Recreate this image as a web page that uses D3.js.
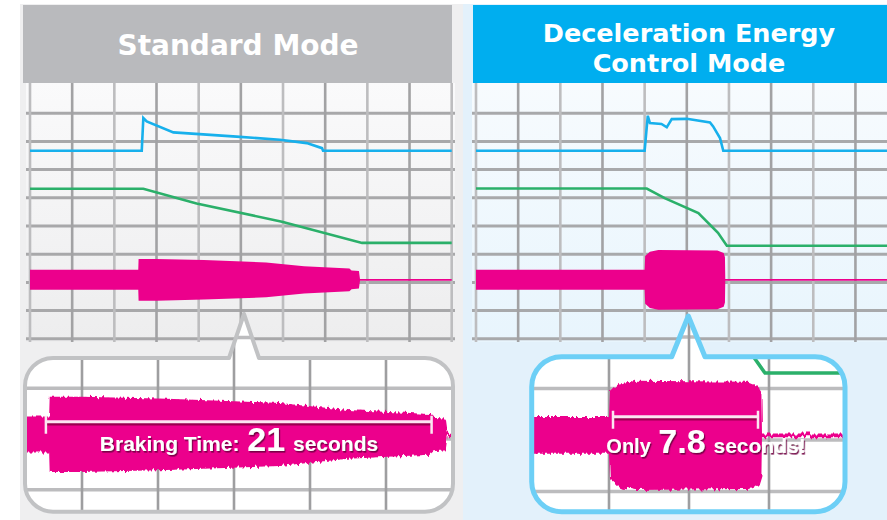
<!DOCTYPE html>
<html>
<head>
<meta charset="utf-8">
<script src="https://cdn.jsdelivr.net/npm/d3@7"></script>
<style>
  body { margin: 0; background: #fff; }
  svg { display: block; }
</style>
</head>
<body>
<div id="chart"></div>
<script>
// grid: one column = 4 s, rows in arbitrary signal units
const timeTicks = d3.range(0, 41, 4);
const levelTicks = d3.range(0, 10);

// [time (s), level]
const stdSpeed = [[0, 6.67], [10.6, 6.67], [10.75, 7.83], [11.07, 7.71], [13.6, 7.32], [19.6, 7.17],
    [23.7, 7.06], [26.25, 6.94], [27.7, 6.76], [27.8, 6.67], [40, 6.67]];
const stdVoltage = [[0, 5.32], [10.75, 5.32], [15.8, 4.8], [23.9, 4.15], [31.5, 3.4], [40, 3.4]];
// [time (s), half amplitude]
const stdCurrent = [[0, 0.355], [10.27, 0.355], [10.3, 0.74], [12, 0.74], [16.5, 0.7], [22.4, 0.62],
    [26, 0.48], [30.3, 0.4], [30.5, 0.33], [31.2, 0.31], [31.3, 0.035], [40, 0.035]];
const stdBracket = [10.1, 30.4];

const decSpeed = [[0, 6.67], [16, 6.67], [16.3, 7.91], [16.5, 7.65], [17.6, 7.62], [18.1, 7.5],
    [18.57, 7.79], [20, 7.8], [22.2, 7.67], [22.5, 7.53], [23.15, 7.12], [23.46, 6.67], [40, 6.67]];
const decVoltage = [[0, 5.33], [16.2, 5.33], [17.9, 4.99], [21.1, 4.46], [22.96, 3.76], [23.8, 3.3], [40, 3.3]];
const decCurrent = [[0, 0.355], [16, 0.355], [16.05, 0.85], [16.5, 1.0], [17.3, 1.06], [22.9, 1.04],
    [23.5, 0.95], [23.62, 0.8], [23.65, 0.035], [40, 0.035]];
const decBracket = [16.2, 23.45];

const currentCenter = 2.09;
const bracketLevel = [2.34, 2.45];
const titles = [["Standard Mode"], ["Deceleration Energy", "Control Mode"]];
const captions = [["Braking Time: ", "21", " seconds"], ["Only ", "7.8", " seconds!"]];

const W = 887, H = 520;

const panels = [
    {
        speed: stdSpeed, voltage: stdVoltage, current: stdCurrent, bracket: stdBracket,
        title: titles[0], caption: captions[0], bracketLevel: bracketLevel[0],
        zoomShowsVoltage: false,
        panelX: [20, 463], panelFill: "#efeff0", gridX: [26, 455], gridFill: "url(#grid-gray)",
        plotX: [30, 451.7], headX: [23, 452], headFill: "#b9babd", titleX: 238, titleY: [55], titleSize: 28,
        lineColor: "#a8a8aa",
        box: [25, 358, 453, 511.7], radius: 28, notch: [229, 259], apex: [244, 314],
        boxStroke: "#c1c2c4", boxWidth: 4,
        zoomX: [[12, 28], [82, 386]], zoomY: [[1, 3], [489.8, 388.2]],
        captionX: 239, captionY: 451, captionSizes: [21, 34, 21]
    },
    {
        speed: decSpeed, voltage: decVoltage, current: decCurrent, bracket: decBracket,
        title: titles[1], caption: captions[1], bracketLevel: bracketLevel[1],
        zoomShowsVoltage: true,
        panelX: [463, 887], panelFill: "#e3f1fb", gridX: [472, 887], gridFill: "url(#grid-blue)",
        plotX: [476, 897.6], headX: [473, 887], headFill: "#00aeef", titleX: 689, titleY: [42, 72], titleSize: 25.5,
        lineColor: "#a8a9ab",
        box: [531.7, 356.7, 845, 511.7], radius: 30, notch: [671.7, 705], apex: [688.3, 316],
        boxStroke: "#6dcff6", boxWidth: 5,
        zoomX: [[20, 24], [689, 769]], zoomY: [[1, 3], [491.5, 388.5]],
        captionX: 706, captionY: 453, captionSizes: [20, 34, 21]
    }
];

const svg = d3.select("#chart").append("svg")
    .attr("width", W)
    .attr("height", H);

const defs = svg.append("defs");

const g1 = defs.append("linearGradient").attr("id", "grid-gray")
    .attr("x1", 0).attr("y1", 0).attr("x2", 0).attr("y2", 1);
g1.append("stop").attr("offset", "0%").attr("stop-color", "#fafafb");
g1.append("stop").attr("offset", "100%").attr("stop-color", "#ededee");

const g2 = defs.append("linearGradient").attr("id", "grid-blue")
    .attr("x1", 0).attr("y1", 0).attr("x2", 0).attr("y2", 1);
g2.append("stop").attr("offset", "0%").attr("stop-color", "#f7fbfe");
g2.append("stop").attr("offset", "100%").attr("stop-color", "#e8f5fd");

const shadow = defs.append("filter").attr("id", "txt-shadow")
    .attr("x", "-10%").attr("y", "-30%").attr("width", "120%").attr("height", "160%");
shadow.append("feDropShadow").attr("dx", 1.2).attr("dy", 1.6)
    .attr("stdDeviation", 0.5).attr("flood-color", "#6e0040").attr("flood-opacity", 0.9);

// ragged brush edges for the magnified current
const brush = defs.append("filter").attr("id", "brush")
    .attr("x", "-5%").attr("y", "-30%").attr("width", "110%").attr("height", "160%");
brush.append("feTurbulence").attr("type", "fractalNoise")
    .attr("baseFrequency", "0.4 0.015").attr("numOctaves", 1).attr("seed", 3).attr("result", "noise");
brush.append("feDisplacementMap").attr("in", "SourceGraphic").attr("in2", "noise")
    .attr("scale", 8).attr("xChannelSelector", "R").attr("yChannelSelector", "G");

function calloutPath(b, r, notch, apex) {
    const [x0, y0, x1, y1] = b;
    const p = d3.path();
    p.moveTo(x0 + r, y0);
    p.lineTo(notch[0], y0);
    p.lineTo(apex[0], apex[1]);
    p.lineTo(notch[1], y0);
    p.lineTo(x1 - r, y0);
    p.arcTo(x1, y0, x1, y0 + r, r);
    p.lineTo(x1, y1 - r);
    p.arcTo(x1, y1, x1 - r, y1, r);
    p.lineTo(x0 + r, y1);
    p.arcTo(x0, y1, x0, y1 - r, r);
    p.lineTo(x0, y0 + r);
    p.arcTo(x0, y0, x0 + r, y0, r);
    p.closePath();
    return p.toString();
}

function drawTraces(g, p, x, y, zoomed) {
    const line = d3.line()
        .x(function (d) { return x(d[0]); })
        .y(function (d) { return y(d[1]); });
    const area = d3.area()
        .x(function (d) { return x(d[0]); })
        .y0(function (d) { return y(currentCenter - d[1]); })
        .y1(function (d) { return y(currentCenter + d[1]); });

    if (!zoomed) {
        g.append("path").datum(p.speed)
            .attr("fill", "none").attr("stroke", "#17b0ec").attr("stroke-width", 2.6)
            .attr("d", line);
    }
    if (!zoomed || p.zoomShowsVoltage) {
        g.append("path").datum(p.voltage)
            .attr("fill", "none").attr("stroke", "#2bb06a").attr("stroke-width", zoomed ? 3.5 : 2.6)
            .attr("d", line);
    }
    g.append("path").datum(p.current)
        .attr("fill", "#ec008c")
        .attr("filter", zoomed ? "url(#brush)" : null)
        .attr("d", area);
}

panels.forEach(function (p, i) {
    const g = svg.append("g");
    const x = d3.scaleLinear().domain([0, 40]).range(p.plotX);
    const y = d3.scaleLinear().domain([0, 9]).range([338.8, 85]);

    g.append("rect")
        .attr("x", p.panelX[0]).attr("y", 4)
        .attr("width", p.panelX[1] - p.panelX[0]).attr("height", H - 4)
        .attr("fill", p.panelFill);

    g.append("rect")
        .attr("x", p.gridX[0]).attr("y", 83)
        .attr("width", p.gridX[1] - p.gridX[0]).attr("height", 259)
        .attr("fill", p.gridFill);

    // main grid
    g.append("g").selectAll("line").data(levelTicks.slice(0, 9)).enter().append("line")
        .attr("x1", p.gridX[0]).attr("x2", p.gridX[1])
        .attr("y1", function (d) { return y(d); })
        .attr("y2", function (d) { return y(d); })
        .attr("stroke", p.lineColor).attr("stroke-width", 3);
    g.append("g").selectAll("line").data(timeTicks).enter().append("line")
        .attr("x1", function (d) { return x(d); })
        .attr("x2", function (d) { return x(d); })
        .attr("y1", 83).attr("y2", 342)
        .attr("stroke", function (d, j) { return j % 2 ? "#a2a2a4" : "#bdbdbf"; })
        .attr("stroke-width", 2.6);

    defs.append("clipPath").attr("id", "plot-clip-" + i)
        .append("rect")
        .attr("x", p.gridX[0]).attr("y", 83)
        .attr("width", p.gridX[1] - p.gridX[0]).attr("height", 259);

    const plot = g.append("g").attr("clip-path", "url(#plot-clip-" + i + ")");
    drawTraces(plot, p, x, y, false);

    // header
    g.append("rect")
        .attr("x", p.headX[0]).attr("y", 5)
        .attr("width", p.headX[1] - p.headX[0]).attr("height", 78)
        .attr("fill", p.headFill);
    g.selectAll(".title-" + i).data(p.title).enter().append("text")
        .attr("x", p.titleX)
        .attr("y", function (d, j) { return p.titleY[j]; })
        .attr("text-anchor", "middle")
        .attr("font-family", "'DejaVu Sans', sans-serif")
        .attr("font-weight", "bold")
        .attr("font-size", p.titleSize)
        .attr("fill", "#fff")
        .text(function (d) { return d; });

    // magnifier callout
    const d = calloutPath(p.box, p.radius, p.notch, p.apex);
    defs.append("clipPath").attr("id", "zoom-clip-" + i)
        .append("path").attr("d", d);
    g.append("path").attr("d", d).attr("fill", "#fff");

    const zx = d3.scaleLinear().domain(p.zoomX[0]).range(p.zoomX[1]);
    const zy = d3.scaleLinear().domain(p.zoomY[0]).range(p.zoomY[1]);
    const zg = g.append("g").attr("clip-path", "url(#zoom-clip-" + i + ")");

    zg.append("g").selectAll("line").data(levelTicks).enter().append("line")
        .attr("x1", p.box[0]).attr("x2", p.box[2])
        .attr("y1", function (d) { return zy(d); })
        .attr("y2", function (d) { return zy(d); })
        .attr("stroke", "#bcbcbe").attr("stroke-width", 3.5);
    zg.append("g").selectAll("line").data(timeTicks).enter().append("line")
        .attr("x1", function (d) { return zx(d); })
        .attr("x2", function (d) { return zx(d); })
        .attr("y1", p.apex[1]).attr("y2", p.box[3])
        .attr("stroke", "#9e9ea0").attr("stroke-width", 2.6);

    drawTraces(zg, p, zx, zy, true);

    // braking-time bracket
    const by = zy(p.bracketLevel);
    const bx0 = zx(p.bracket[0]), bx1 = zx(p.bracket[1]);
    zg.append("line").attr("x1", bx0).attr("x2", bx1).attr("y1", by + 2.5).attr("y2", by + 2.5)
        .attr("stroke", "#9a004f").attr("stroke-width", 2.5);
    zg.append("line").attr("x1", bx0).attr("x2", bx1).attr("y1", by).attr("y2", by)
        .attr("stroke", "#fbe6f1").attr("stroke-width", 3);
    zg.append("g").selectAll("line").data([bx0, bx1]).enter().append("line")
        .attr("x1", function (d) { return d; })
        .attr("x2", function (d) { return d; })
        .attr("y1", by - 6).attr("y2", by + 12)
        .attr("stroke", "#fbe6f1").attr("stroke-width", 2.5);

    const t = zg.append("text")
        .attr("x", p.captionX).attr("y", p.captionY)
        .attr("text-anchor", "middle")
        .attr("font-family", "'Liberation Sans', Arial, sans-serif")
        .attr("font-weight", "bold")
        .attr("fill", "#fff")
        .attr("filter", "url(#txt-shadow)");
    p.caption.forEach(function (c, j) {
        t.append("tspan")
            .attr("font-size", p.captionSizes[j])
            .attr("dx", j ? 2 : 0)
            .text(c);
    });

    g.append("path").attr("d", d)
        .attr("fill", "none")
        .attr("stroke", p.boxStroke)
        .attr("stroke-width", p.boxWidth)
        .attr("stroke-linejoin", "round");
});
</script>
</body>
</html>
